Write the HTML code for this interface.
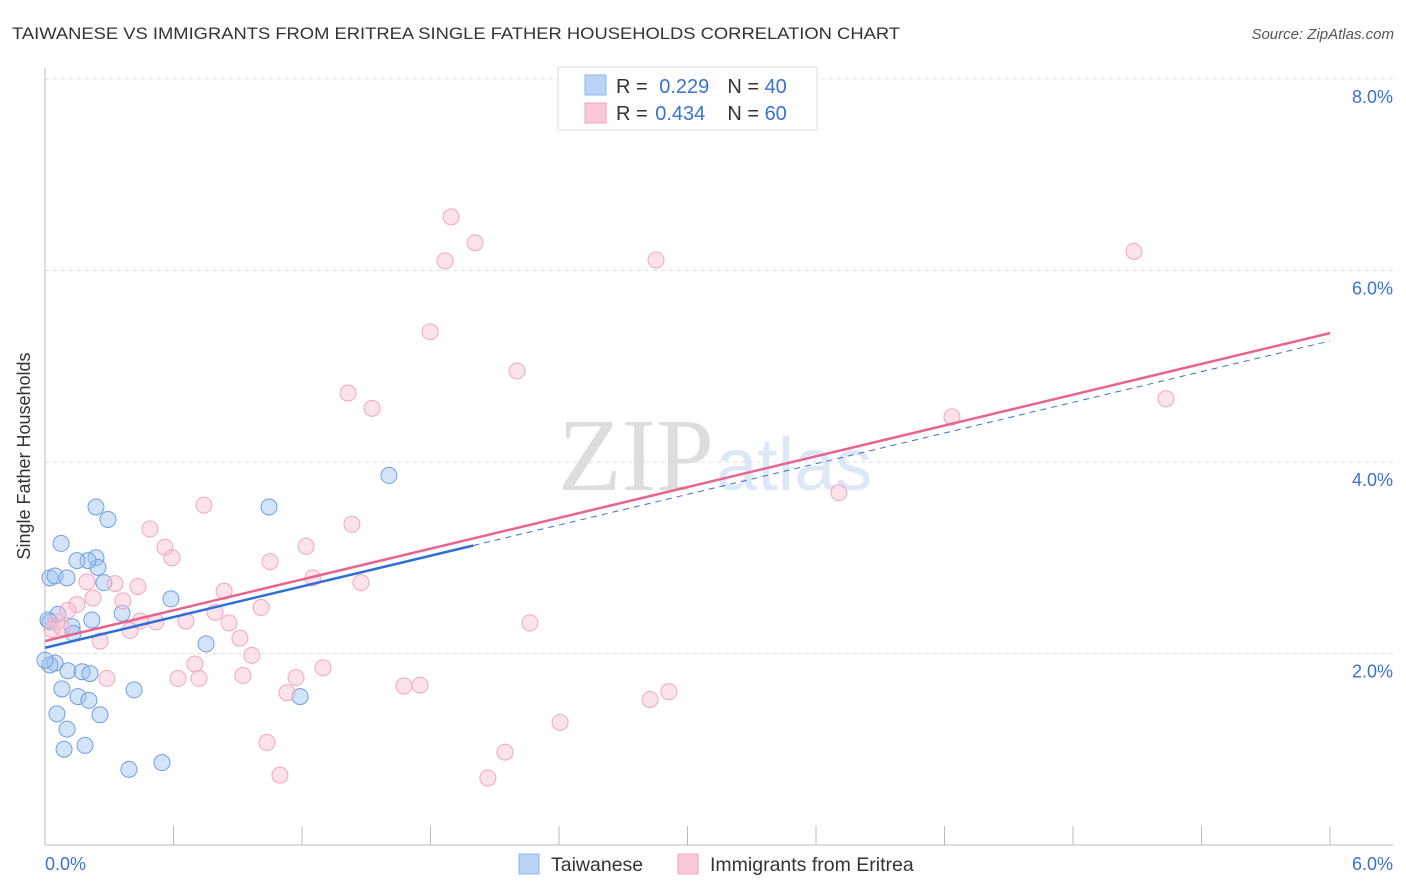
<!DOCTYPE html>
<html><head><meta charset="utf-8"><style>
body{margin:0;background:#fff;font-family:"Liberation Sans",sans-serif;}
#wrap{position:relative;width:1406px;height:892px;overflow:hidden;}
</style></head><body>
<div id="wrap">
<svg id="svg" width="1406" height="892" xmlns="http://www.w3.org/2000/svg">
<text x="12" y="39" font-size="17" fill="#333" textLength="888" lengthAdjust="spacingAndGlyphs">TAIWANESE VS IMMIGRANTS FROM ERITREA SINGLE FATHER HOUSEHOLDS CORRELATION CHART</text>
<text x="1394" y="39" font-size="15" font-style="italic" fill="#555" text-anchor="end">Source: ZipAtlas.com</text>
<text x="714" y="490" font-size="104" font-family="Liberation Serif,serif" fill="#ddd" text-anchor="end">ZIP</text>
<text x="716" y="490" font-size="74" fill="#dce8f7">atlas</text>
<text x="30" y="456" font-size="18" fill="#333" text-anchor="middle" transform="rotate(-90 30 456)">Single Father Households</text>
<g id="grid"></g><g id="marks"></g><g id="lines"></g>
<g>
<rect x="558" y="67" width="259" height="63" fill="#fff" stroke="#ddd"/>
<rect x="585" y="75" width="21" height="20" fill="#b8d3f5" stroke="#8ab4ec"/>
<rect x="585" y="103" width="21" height="20" fill="#f9c9d7" stroke="#f0a5bc"/>
<text x="616" y="93" font-size="20" fill="#333">R = <tspan fill="#3a72d0" dx="6">0.229</tspan><tspan dx="18">N = </tspan><tspan fill="#3a72d0">40</tspan></text>
<text x="616" y="120" font-size="20" fill="#333">R = <tspan fill="#3a72d0" dx="2">0.434</tspan><tspan dx="22">N = </tspan><tspan fill="#3a72d0">60</tspan></text>
</g>
<g>
<rect x="519" y="854" width="20" height="20" fill="#b8d3f5" stroke="#8ab4ec"/>
<text x="551" y="871" font-size="19.5" fill="#333">Taiwanese</text>
<rect x="678" y="854" width="20" height="20" fill="#f9c9d7" stroke="#f0a5bc"/>
<text x="710" y="871" font-size="19.5" fill="#333">Immigrants from Eritrea</text>
</g>
<text x="45" y="870" font-size="18" fill="#3a72d0">0.0%</text>
<text x="1393" y="870" font-size="18" fill="#3a72d0" text-anchor="end">6.0%</text>
</svg></div>
<script>
const yTicks=[2,4,6,8];
const yTickLabels=["2.0%","4.0%","6.0%","8.0%"];
const blueX=[0.023,0.047,0.103,0.075,0.238,0.294,0.238,0.247,0.201,0.149,0.275,0.360,0.219,0.126,0.131,0.061,0.023,0.014,0.047,0.023,0.107,0.173,0.210,0.079,0.154,0.205,0.257,0.056,0.103,0.089,0.187,0.416,0.392,0.546,0.588,0.752,1.046,1.191,1.606,0.0];
const blueY=[2.79,2.81,2.79,3.15,3.53,3.40,3.00,2.90,2.97,2.97,2.74,2.42,2.35,2.28,2.21,2.41,2.33,2.35,1.90,1.88,1.82,1.81,1.79,1.63,1.55,1.51,1.36,1.37,1.21,1.00,1.04,1.62,0.79,0.86,2.57,2.10,3.53,1.55,3.86,1.93];
const pinkX=[1.896,2.008,1.868,2.853,5.085,1.798,2.204,1.415,1.527,4.235,5.234,3.707,0.742,0.490,1.433,0.560,0.593,1.219,1.051,1.251,1.475,0.196,0.327,0.434,0.836,0.224,0.364,0.149,0.107,1.009,0.794,0.658,0.518,0.444,0.859,2.264,0.056,0.397,0.910,0.257,0.966,0.700,1.298,0.289,0.621,0.719,0.924,1.172,1.130,1.676,1.751,2.825,2.913,2.405,1.037,2.148,1.097,2.068,0.033,0.079];
const pinkY=[6.56,6.29,6.10,6.11,6.20,5.36,4.95,4.72,4.56,4.47,4.66,3.68,3.55,3.30,3.35,3.11,3.00,3.12,2.96,2.79,2.74,2.75,2.73,2.70,2.65,2.58,2.55,2.51,2.45,2.48,2.43,2.34,2.33,2.34,2.32,2.32,2.33,2.24,2.16,2.13,1.98,1.89,1.85,1.74,1.74,1.74,1.77,1.75,1.59,1.66,1.67,1.52,1.60,1.28,1.07,0.97,0.73,0.70,2.25,2.27];
const blueFit=[2.06,0.534];
const pinkFit=[2.13,0.536];
const blueSolidEnd=[2.0];
const NS="http://www.w3.org/2000/svg";
const sx=v=>45+v*1285/6, sy=v=>845-v*95.75;
function mk(tag,attrs,parent){const e=document.createElementNS(NS,tag);for(const k in attrs)e.setAttribute(k,attrs[k]);parent.appendChild(e);return e;}
const grid=document.getElementById('grid'),marks=document.getElementById('marks'),lines=document.getElementById('lines');
yTicks.forEach((t,i)=>{
 const l=mk('line',{x1:45,x2:1393,y1:sy(t),y2:sy(t),stroke:'#ddd','stroke-dasharray':'4,4'},grid);
 
 
 const tx=mk('text',{x:1393,y:sy(t)+24,'font-size':18,fill:'#3a72d0','text-anchor':'end'},grid);
 tx.textContent=yTickLabels[i];
 
 
});
const ax=mk('line',{x1:45,x2:45,y1:68,y2:845,stroke:'#bbb'},grid);


const bx=mk('line',{x1:45,x2:1393,y1:845,y2:845,stroke:'#bbb'},grid);


for(let i=0;i<=10;i++){const v=i*0.6;
 const t=mk('line',{x1:sx(v),x2:sx(v),y1:826,y2:845,stroke:'#bbb'},grid);
 
 
}
blueX.forEach((x,i)=>{
 const c=mk('circle',{cx:sx(x),cy:sy(blueY[i]),r:8,fill:'rgba(160,196,240,0.45)',stroke:'#6f9fe2','stroke-width':1},marks);
 
 
});
pinkX.forEach((x,i)=>{
 const c=mk('circle',{cx:sx(x),cy:sy(pinkY[i]),r:8,fill:'rgba(248,190,208,0.45)',stroke:'#f0a8be','stroke-width':1},marks);
 
 
});
const f=(p,x)=>p[0]+p[1]*x;
const bd=mk('line',{x1:sx(blueSolidEnd[0]),y1:sy(f(blueFit,blueSolidEnd[0])),x2:sx(6),y2:sy(f(blueFit,6)),stroke:'#3a72d0','stroke-width':1,'stroke-dasharray':'6,5'},lines);


const pl=mk('line',{x1:sx(0),y1:sy(f(pinkFit,0)),x2:sx(6),y2:sy(f(pinkFit,6)),stroke:'#e8648e','stroke-width':2.5},lines);


const bl=mk('line',{x1:sx(0),y1:sy(f(blueFit,0)),x2:sx(blueSolidEnd[0]),y2:sy(f(blueFit,blueSolidEnd[0])),stroke:'#2f6fd6','stroke-width':2.5},lines);


</script>
</body></html>
